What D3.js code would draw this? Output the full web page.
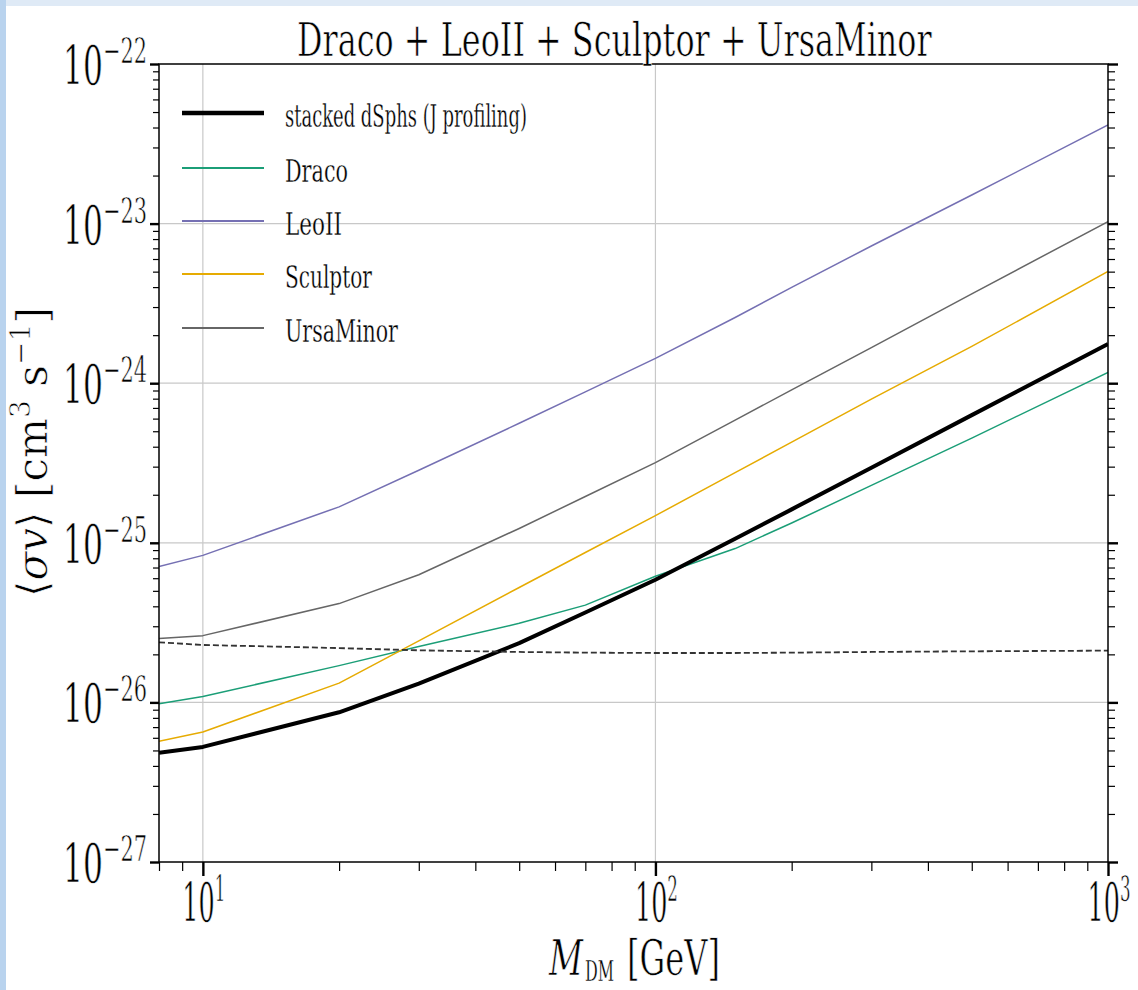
<!DOCTYPE html>
<html>
<head>
<meta charset="utf-8">
<script src="https://cdn.jsdelivr.net/npm/d3@7"></script>
<style>
  body { margin: 0; background: #fff; }
  svg text { font-family: "DejaVu Serif", "Liberation Serif", serif; fill: #000; }
  svg text.thin { stroke: #fff; stroke-width: 0.7px; }
  svg text.thinner { stroke: #fff; stroke-width: 0.35px; }
</style>
</head>
<body>
<div id="chart"></div>
<script>
// dark matter mass grid [GeV]
var masses = [8, 10, 20, 30, 50, 70, 100, 150, 200, 300, 500, 1000];

// upper limits on <sigma v> [cm^3 s^-1]
var stacked    = [4.83e-27, 5.26e-27, 8.67e-27, 1.31e-26, 2.35e-26, 3.66e-26, 5.87e-26, 1.06e-25, 1.62e-25, 2.95e-25, 6.31e-25, 1.76e-24];
var draco      = [9.82e-27, 1.09e-26, 1.70e-26, 2.24e-26, 3.13e-26, 4.07e-26, 6.17e-26, 9.20e-26, 1.33e-25, 2.29e-25, 4.53e-25, 1.17e-24];
var leoII      = [7.11e-26, 8.34e-26, 1.68e-25, 2.85e-25, 5.61e-25, 8.83e-25, 1.43e-24, 2.58e-24, 3.98e-24, 7.24e-24, 1.51e-23, 4.15e-23];
var sculptor   = [5.71e-27, 6.53e-27, 1.32e-26, 2.43e-26, 5.25e-26, 8.69e-26, 1.48e-25, 2.75e-25, 4.27e-25, 7.94e-25, 1.70e-24, 5.01e-24];
var ursaMinor  = [2.51e-26, 2.62e-26, 4.16e-26, 6.31e-26, 1.23e-25, 1.95e-25, 3.18e-25, 5.87e-25, 9.08e-25, 1.67e-24, 3.63e-24, 1.03e-23];
var thermal    = [2.38e-26, 2.29e-26, 2.19e-26, 2.12e-26, 2.07e-26, 2.05e-26, 2.04e-26, 2.04e-26, 2.05e-26, 2.07e-26, 2.09e-26, 2.11e-26];

var seriesNames = ["stacked dSphs (J profiling)", "Draco", "LeoII", "Sculptor", "UrsaMinor"];
var seriesColors = ["#000000", "#1b9e77", "#7570b3", "#e6ab02", "#666666"];

var xTicks = [10, 100, 1000];
var xTickExp = ["1", "2", "3"];
var yTicks = [1e-22, 1e-23, 1e-24, 1e-25, 1e-26, 1e-27];
var yTickExp = ["\u221222", "\u221223", "\u221224", "\u221225", "\u221226", "\u221227"];

var W = 1138, H = 990;
var margin = { top: 64, right: 30, bottom: 128, left: 159 };
var width = 1108 - margin.left,
    height = 862 - margin.top;

var svg = d3.select("#chart").append("svg")
    .attr("width", W)
    .attr("height", H);

// light blue frame seen in the screenshot
svg.append("rect").attr("x", 0).attr("y", 0).attr("width", W).attr("height", 6).attr("fill", "#dfeaf6");
svg.append("rect").attr("x", 0).attr("y", 0).attr("width", 6).attr("height", H).attr("fill", "#b9d3ee");

var g = svg.append("g")
    .attr("transform", "translate(" + margin.left + "," + margin.top + ")");

var x = d3.scaleLog().domain([8, 1000]).range([0, width]);
var y = d3.scaleLog().domain([1e-27, 1e-22]).range([height, 0]);

// grid
g.append("g").selectAll("line").data([1e-23, 1e-24, 1e-25, 1e-26]).enter().append("line")
    .attr("x1", 0).attr("x2", width)
    .attr("y1", function(d){ return y(d); }).attr("y2", function(d){ return y(d); })
    .attr("stroke", "#c8c8c8").attr("stroke-width", 1.2);
g.append("g").selectAll("line").data([10, 100]).enter().append("line")
    .attr("y1", 0).attr("y2", height)
    .attr("x1", function(d){ return x(d); }).attr("x2", function(d){ return x(d); })
    .attr("stroke", "#c8c8c8").attr("stroke-width", 1.2);

// minor tick values
var yMinor = [];
for (var e = -27; e < -22; e++) {
    for (var k = 2; k <= 9; k++) yMinor.push(k * Math.pow(10, e));
}
var xMinor = [8, 9, 20, 30, 40, 50, 60, 70, 80, 90, 200, 300, 400, 500, 600, 700, 800, 900];

// axes built with d3 axis generators, labels drawn separately
var axisStyle = function(sel, w){
    sel.select(".domain").remove();
    sel.selectAll(".tick line").attr("stroke", "#000").attr("stroke-width", w);
    sel.selectAll(".tick text").remove();
};

g.append("g").call(d3.axisLeft(y).tickValues(yTicks).tickSize(9)).call(axisStyle, 2.4);
g.append("g").call(d3.axisLeft(y).tickValues(yMinor).tickSize(6)).call(axisStyle, 1.2);
g.append("g").attr("transform", "translate(" + width + ",0)")
    .call(d3.axisRight(y).tickValues(yTicks).tickSize(10)).call(axisStyle, 2.4);
g.append("g").attr("transform", "translate(" + width + ",0)")
    .call(d3.axisRight(y).tickValues(yMinor).tickSize(7)).call(axisStyle, 1.2);
g.append("g").attr("transform", "translate(0," + height + ")")
    .call(d3.axisBottom(x).tickValues(xTicks).tickSize(14)).call(axisStyle, 2.4);
g.append("g").attr("transform", "translate(0," + height + ")")
    .call(d3.axisBottom(x).tickValues(xMinor).tickSize(9)).call(axisStyle, 1.2);

// lines
var line = d3.line()
    .x(function(d){ return x(d[0]); })
    .y(function(d){ return y(d[1]); });

var allSeries = [stacked, draco, leoII, sculptor, ursaMinor];
g.append("clipPath").attr("id", "clip").append("rect")
    .attr("width", width).attr("height", height);

var plot = g.append("g").attr("clip-path", "url(#clip)");

[1, 2, 3, 4, 0].forEach(function(i){
    plot.append("path")
        .datum(d3.zip(masses, allSeries[i]))
        .attr("fill", "none")
        .attr("stroke", seriesColors[i])
        .attr("stroke-width", i === 0 ? 4 : 1.5)
        .attr("stroke-linejoin", "round")
        .attr("d", line);
});

plot.append("path")
    .datum(d3.zip(masses, thermal))
    .attr("fill", "none")
    .attr("stroke", "#333")
    .attr("stroke-width", 1.8)
    .attr("stroke-dasharray", "6,3")
    .attr("d", line);

// frame
g.append("rect")
    .attr("width", width).attr("height", height)
    .attr("fill", "none").attr("stroke", "#000").attr("stroke-width", 1.5);

// text squeezed horizontally to a wanted width (the figure fonts are tall and narrow)
function fitText(sel, px, py, target, anchor, rot) {
    var len = sel.node().getComputedTextLength();
    var s = target / len;
    sel.attr("text-anchor", anchor || "start")
       .attr("transform", "translate(" + px + "," + py + ")" + (rot ? " rotate(" + rot + ")" : "") + " scale(" + s + ",1)");
    return sel;
}

// tick labels
yTicks.forEach(function(t, i){
    var tx = svg.append("text").attr("class", "thin").attr("font-size", 54);
    tx.append("tspan").text("10");
    tx.append("tspan").attr("font-size", 36).attr("dy", -22).text(yTickExp[i]);
    fitText(tx, margin.left - 12, margin.top + y(t) + 21, 84, "end");
});

xTicks.forEach(function(t, i){
    var tx = svg.append("text").attr("class", "thin").attr("font-size", 55);
    tx.append("tspan").text("10");
    tx.append("tspan").attr("font-size", 36).attr("dy", -21).text(xTickExp[i]);
    fitText(tx, margin.left + x(t) + 1, margin.top + height + 60, 43, "middle");
});

// title
fitText(svg.append("text").attr("class", "thin").attr("font-size", 46)
    .text("Draco + LeoII + Sculptor + UrsaMinor"), 297, 56, 635);

// x label, pieces placed one after another
fitText(svg.append("text").attr("class", "thin").attr("font-size", 48)
    .attr("font-style", "italic").text("M"), 549, 975, 34);
fitText(svg.append("text").attr("class", "thinner").attr("font-size", 28)
    .text("DM"), 585, 981, 29);
fitText(svg.append("text").attr("class", "thin").attr("font-size", 48)
    .text("[GeV]"), 627, 975, 93);

// y label
var yl = svg.append("text").attr("class", "thin").attr("font-size", 42);
yl.append("tspan").text("\u27e8");
yl.append("tspan").attr("font-style", "italic").text("\u03c3v");
yl.append("tspan").text("\u27e9  [cm");
yl.append("tspan").attr("font-size", 28).attr("dy", -17).text("3");
yl.append("tspan").attr("dy", 17).text(" s");
yl.append("tspan").attr("font-size", 28).attr("dy", -17).text("\u22121");
yl.append("tspan").attr("dy", 17).text("]");
fitText(yl, 47, 597, 290, "start", -90);

// legend
var legendY = [113, 168, 221, 274, 328];
var legendLen = [242, 63, 57, 87, 113];
var legend = svg.append("g");
seriesNames.forEach(function(name, i){
    legend.append("line")
        .attr("x1", 182).attr("x2", 264)
        .attr("y1", legendY[i]).attr("y2", legendY[i])
        .attr("stroke", seriesColors[i])
        .attr("stroke-width", i === 0 ? 4.5 : 1.8);
    var t = legend.append("text").attr("class", "thinner").attr("font-size", 32).text(name);
    fitText(t, 285, legendY[i] + 14, legendLen[i]);
});
</script>
</body>
</html>
